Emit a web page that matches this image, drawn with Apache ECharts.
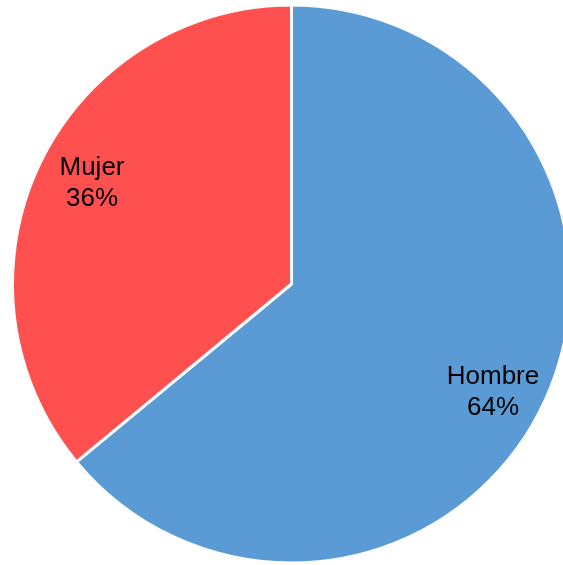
<!DOCTYPE html>
<html>
<head>
<meta charset="utf-8">
<script src="https://cdn.jsdelivr.net/npm/echarts@6/dist/echarts.min.js"></script>
<style>html,body{margin:0;padding:0;background:#fff}#c{width:563px;height:565px}</style>
</head>
<body>
<div id="c"></div>
<script>
const categories = ['Hombre', 'Mujer'];
const values = [64, 36];
const colors = ['#5B9BD5', '#FF5050'];

// label layout tweaks (not data)
const labelOffsets = {Hombre: [-3, 12], Mujer: [5, -4]};

const chart = echarts.init(document.getElementById('c'), null, {renderer: 'canvas'});
const data = categories.map((name, i) => ({name, value: values[i], itemStyle: {color: colors[i]}}));
chart.setOption({
  animation: false,
  series: [
    {
      type: 'pie',
      center: [291.5, 284],
      radius: [0, 279],
      startAngle: 90,
      clockwise: true,
      label: {show: false},
      labelLine: {show: false},
      itemStyle: {borderColor: '#fff', borderWidth: 3},
      data: data
    },
    {
      type: 'pie',
      center: [291.5, 284],
      radius: [167, 279],
      startAngle: 90,
      clockwise: true,
      silent: true,
      itemStyle: {color: 'transparent', borderWidth: 0},
      label: {
        show: true,
        position: 'inside',
        formatter: p => p.name + '\n' + Math.round(p.percent) + '%',
        fontFamily: 'Liberation Sans, Arial, sans-serif',
        fontSize: 26,
        lineHeight: 31,
        color: '#000',
        align: 'center'
      },
      labelLine: {show: false},
      data: categories.map((name, i) => ({name, value: values[i], label: {offset: labelOffsets[name]}}))
    }
  ]
});
</script>
</body>
</html>
